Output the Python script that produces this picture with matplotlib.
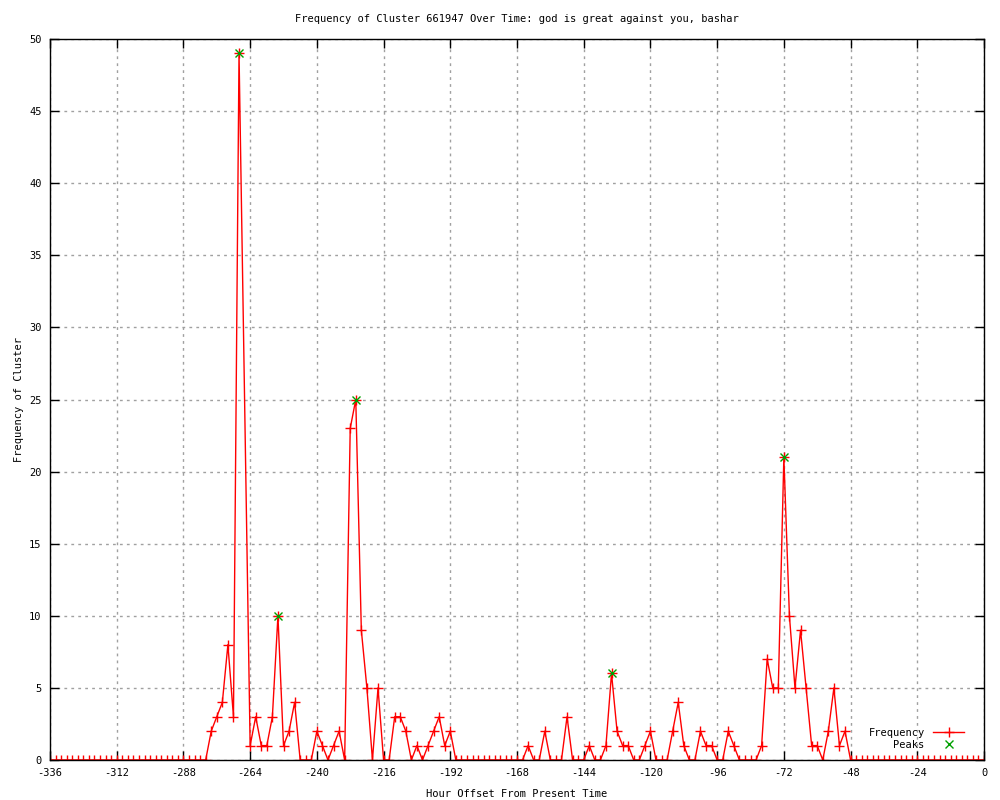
import matplotlib
matplotlib.use("Agg")
import matplotlib.pyplot as plt

plt.rcParams['font.family'] = ['DejaVu Sans Mono']
plt.rcParams['font.size'] = 7.5
plt.rcParams['axes.unicode_minus'] = False

# hours (2 hour bins), -266 has no sample in the source data
hours = [h for h in range(-336, 1, 2) if h != -266]

freq = (
    [0] * 29                                   # -336 .. -280
    + [2, 3, 4, 8, 3, 49]                      # -278 .. -268
    + [1, 3, 1, 1, 3, 10, 1, 2, 4, 0, 0, 0,    # -264 .. -242
       2, 1, 0, 1, 2, 0, 23, 25, 9, 5, 0, 5,   # -240 .. -218
       0, 0, 3, 3, 2, 0, 1, 0, 1, 2, 3, 1, 2]  # -216 .. -192
    + [0] * 13                                 # -190 .. -166
    + [1, 0, 0, 2, 0, 0, 0, 3, 0, 0,           # -164 .. -146
       0, 1, 0, 0, 1, 6, 2, 1, 1, 0,           # -144 .. -126
       0, 1, 2, 0, 0, 0, 2, 4, 1, 0,           # -124 .. -106
       0, 2, 1, 1, 0, 0, 2, 1, 0, 0,           # -104 .. -86
       0, 0, 1, 7, 5, 5, 21, 10, 5, 9,         # -84 .. -66
       5, 1, 1, 0, 2, 5, 1, 2, 0]              # -64 .. -48
    + [0] * 24                                 # -46 .. 0
)

peak_hours = [-268, -254, -226, -134, -72]
peak_values = [49, 10, 25, 6, 21]

fig = plt.figure(figsize=(10, 8), dpi=100)
ax = fig.add_axes([0.05, 0.05, 0.934, 0.90125])

ax.plot(hours, freq, color='red', lw=1, marker='+', ms=6.5, mew=1,
        label='Frequency')
ax.plot(peak_hours, peak_values, ls='none', color='#00a000', marker='x',
        ms=5.5, mew=1, label='Peaks')

ax.set_xlim(-336, 0)
ax.set_ylim(0, 50)
ax.set_xticks(range(-336, 1, 24))
ax.set_yticks(range(0, 51, 5))
ax.tick_params(direction='in', length=6.5, width=1, top=True, right=True,
               pad=6, colors='black')
ax.grid(True, color='#a0a0a0', ls=(0, (2, 3)), lw=1)
for s in ax.spines.values():
    s.set_linewidth(1)

ax.set_title('Frequency of Cluster 661947 Over Time: god is great against you, bashar',
             fontsize=7.5, pad=12)
ax.set_xlabel('Hour Offset From Present Time', labelpad=8)
ax.set_ylabel('Frequency of Cluster', labelpad=4)

ax.legend(loc='lower right', frameon=False, markerfirst=False,
          handlelength=3, borderaxespad=0.6, labelspacing=0.2,
          bbox_to_anchor=(0.99, 0.0))

fig.savefig('out.png', dpi=100)
